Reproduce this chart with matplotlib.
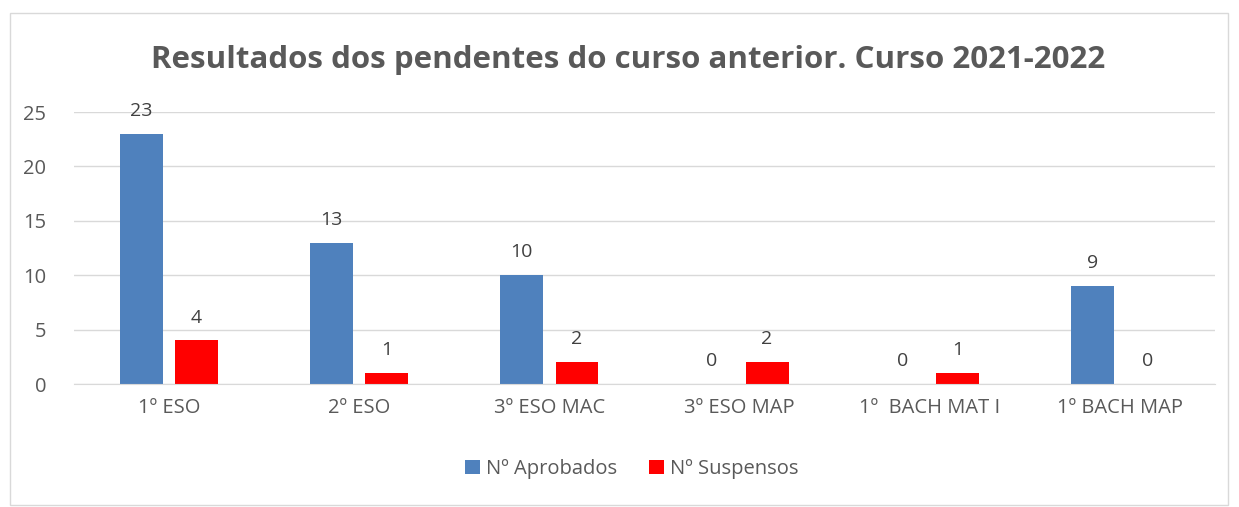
import matplotlib.pyplot as plt
import numpy as np
from matplotlib.patches import Rectangle

categories = ['1º ESO', '2º ESO', '3º ESO MAC', '3º ESO MAP', '1º  BACH MAT I', '1º BACH MAP']
aprobados = [23, 13, 10, 0, 0, 9]
suspensos = [4, 1, 2, 2, 1, 0]

plt.rcParams['font.family'] = ['Open Sans', 'DejaVu Sans']

fig = plt.figure(figsize=(12.39, 5.07), dpi=100)
ax = fig.add_axes([0.0597, 0.2426, 0.9209, 0.5364])

x = np.arange(len(categories))
w = 0.225
b1 = ax.bar(x - 0.145, aprobados, w, color='#4F81BD', label='Nº Aprobados')
b2 = ax.bar(x + 0.145, suspensos, w, color='#FF0000', label='Nº Suspensos')

for bars, vals in ((b1, aprobados), (b2, suspensos)):
    for r, v in zip(bars, vals):
        ax.annotate(str(v), (r.get_x() + r.get_width() / 2, v), xytext=(0, 10),
                    textcoords='offset points', ha='center', va='bottom',
                    fontsize=14, color='#404040')

ax.set_xlim(-0.5, len(categories) - 0.5)
ax.set_ylim(0, 25)
ax.set_yticks(range(0, 26, 5))
ax.set_xticks(x)
ax.set_xticklabels(categories)
ax.tick_params(axis='both', length=0, labelsize=14.5, labelcolor='#595959')
ax.tick_params(axis='x', pad=10)
ax.tick_params(axis='y', pad=20)
ax.grid(axis='y', color='#d9d9d9', linewidth=1)
ax.set_axisbelow(True)
for s in ['top', 'right', 'left']:
    ax.spines[s].set_visible(False)
ax.spines['bottom'].set_color('#d9d9d9')

fig.text(0.507, 0.881, 'Resultados dos pendentes do curso anterior. Curso 2021-2022',
         ha='center', va='center', fontsize=22.5, fontweight='bold', color='#595959')

fig.legend(handles=[b1, b2], loc='center', bbox_to_anchor=(0.51, 0.075), ncol=2,
           frameon=False, fontsize=14.5, labelcolor='#595959', handlelength=0.75,
           handleheight=0.75, handletextpad=0.3, columnspacing=1.6)

fig.patches.append(Rectangle((10 / 1239, 2 / 507), 1218 / 1239, 492 / 507,
                             transform=fig.transFigure, fill=False,
                             edgecolor='#d9d9d9', linewidth=1))

fig.savefig('out.png', dpi=100)
